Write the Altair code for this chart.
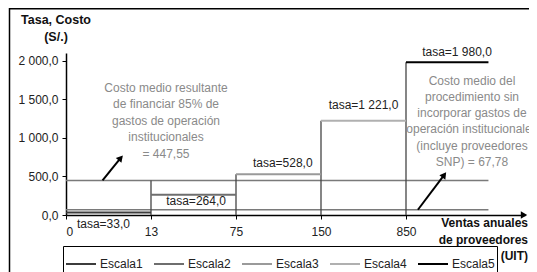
import altair as alt
import pandas as pd

# ---- data ----
escalas = ["Escala1", "Escala2", "Escala3", "Escala4", "Escala5"]
tasas = [33.0, 264.0, 528.0, 1221.0, 1980.0]
x_labels = ["0", "13", "75", "150", "850"]
step_start = [0, 1, 2, 3, 4]
step_end = [1, 2, 3, 4, 4.97]
colores = ["#3c3c3c", "#6e6e6e", "#9a9a9a", "#b0b0b0", "#000000"]

costos = [447.55, 67.78]
costo_end = 4.97

vert_x = [1, 2, 3, 4]
vert_top = [447.55, 528.0, 1221.0, 1980.0]

# annotation placements (index units, value units)
tasa_lab_x = [0.44, 1.53, 2.55, 3.5, 4.6]
tasa_lab_y = [-117, 185, 674, 1426, 2118]
arrows = {"x": [0.43, 4.14], "y": [447.55, 67.78], "x2": [0.644, 4.45], "y2": [739, 520], "ang": [41.5, 36.4]}


def fmt(v):
    s = f"{v:,.1f}"
    return s.replace(",", " ").replace(".", ",")


steps = pd.DataFrame({"escala": escalas, "tasa": tasas, "x0": step_start, "x1": step_end})
costo_df = pd.DataFrame({"c": costos, "x0": [0, 0], "x1": [costo_end, costo_end]})
vert_df = pd.DataFrame({"x": vert_x, "top": vert_top, "bot": [0] * len(vert_x)})
tasa_df = pd.DataFrame({"x": tasa_lab_x, "y": tasa_lab_y, "t": [f"tasa={fmt(v)}" for v in tasas]})
arr_df = pd.DataFrame(arrows)
one = pd.DataFrame({"a": [0]})

FONT = "Liberation Sans"
xs = alt.Scale(domain=[0, 5.4], nice=False, zero=False)
ys = alt.Scale(domain=[0, 2100], nice=False)

label_expr_x = "[" + ",".join(f"'{l}'" for l in x_labels) + "][datum.value]"
label_expr_y = "replace(replace(format(datum.value, ',.1f'), ',', ' '), '.', ',')"

XAX = alt.Axis(values=step_start, labelExpr=label_expr_x, grid=False, tickSize=4,
               domainColor="black", tickColor="black", labelFont=FONT, labelFontSize=12,
               labelColor="#222", labelPadding=7, domainWidth=1.5, title=None)
YAX = alt.Axis(values=[0, 500, 1000, 1500, 2000], labelExpr=label_expr_y, grid=False,
               tickSize=4, domainColor="black", tickColor="black", labelFont=FONT,
               labelFontSize=12, labelColor="#222", labelPadding=4, domainWidth=1.5, title=None)


def X(f):
    return alt.X(f, scale=xs, axis=XAX, title=None)


def Y(f):
    return alt.Y(f, scale=ys, axis=YAX, title=None)


frame = alt.Chart(one).mark_rect(fill="transparent", stroke="black", strokeWidth=1.5).encode(
    x=alt.value(-56.5), y=alt.value(-44.2), x2=alt.value(700), y2=alt.value(500)
)

costo_lines = alt.Chart(costo_df).mark_rule(color="#7a7a7a", strokeWidth=1.5).encode(
    x=X("x0:Q"), x2="x1:Q", y=Y("c:Q")
)

verts = alt.Chart(vert_df).mark_rule(color="#444444", strokeWidth=1.3).encode(
    x=X("x:Q"), y=Y("bot:Q"), y2="top:Q"
)

step_rules = alt.Chart(steps).mark_rule(strokeWidth=2).encode(
    x=X("x0:Q"),
    x2="x1:Q",
    y=Y("tasa:Q"),
    color=alt.Color("escala:N", scale=alt.Scale(domain=escalas, range=colores),
                    legend=alt.Legend(title=None, orient="none", direction="horizontal",
                                      legendX=-3, legendY=193, symbolType="stroke",
                                      symbolSize=900, symbolStrokeWidth=2, labelFont=FONT,
                                      labelFontSize=12, labelColor="#222", labelOffset=3,
                                      columnPadding=7, padding=2, strokeColor="black",
                                      cornerRadius=0)),
)

axis_arrow = alt.Chart(one).mark_point(shape="triangle-right", size=55, filled=True, color="black", opacity=1).encode(
    x=alt.value(458), y=alt.value(162)
)

tasa_text = alt.Chart(tasa_df).mark_text(font=FONT, fontSize=12, color="#222").encode(
    x=X("x:Q"), y=Y("y:Q"), text="t:N"
)

arr_shaft = alt.Chart(arr_df).mark_rule(color="black", strokeWidth=2).encode(
    x=X("x:Q"), y=Y("y:Q"), x2="x2:Q", y2="y2:Q"
)
arr_head = alt.Chart(arr_df).mark_point(shape="triangle-up", size=55, filled=True, color="black", opacity=1).encode(
    x=X("x2:Q"), y=Y("y2:Q"), angle=alt.Angle("ang:Q", scale=None)
)


def label(txt, px, py, **kw):
    return alt.Chart(one).mark_text(font=FONT, **kw).encode(
        x=alt.value(px), y=alt.value(py), text=alt.value(txt)
    )


left_note = label(["Costo medio resultante", "de financiar 85% de", "gastos de operación",
                   "institucionales", "= 447,55"], 100, 29.5, fontSize=12, color="#8a8a8a",
                  lineHeight=16.5, baseline="top", align="center")
right_note = label(["Costo medio del", "procedimiento sin", "incorporar gastos de",
                    "operación institucionales", "(incluye proveedores", "SNP) = 67,78"],
                   406, 22.5, fontSize=12, color="#8a8a8a", lineHeight=16.3, baseline="top",
                   align="center")
ytitle = label(["Tasa, Costo", "(S/.)"], -10, -33, fontSize=12.5, fontWeight="bold",
               color="#111", lineHeight=17, baseline="middle", align="center")
xtitle = label(["Ventas anuales", "de proveedores", "(UIT)"], 462, 170, fontSize=12,
               fontWeight="bold", color="#111", lineHeight=16.5, baseline="middle", align="right")

chart = alt.layer(
    frame, costo_lines, verts, step_rules, axis_arrow, tasa_text, arr_shaft, arr_head,
    left_note, right_note, ytitle, xtitle
).properties(
    width=459, height=162,
    autosize=alt.AutoSizeParams(type="none"),
    padding={"left": 58, "top": 45, "right": 4, "bottom": 57},
    background="white",
).configure_view(stroke=None)

chart.save("out.html", embed_options={"renderer": "svg", "actions": False})
